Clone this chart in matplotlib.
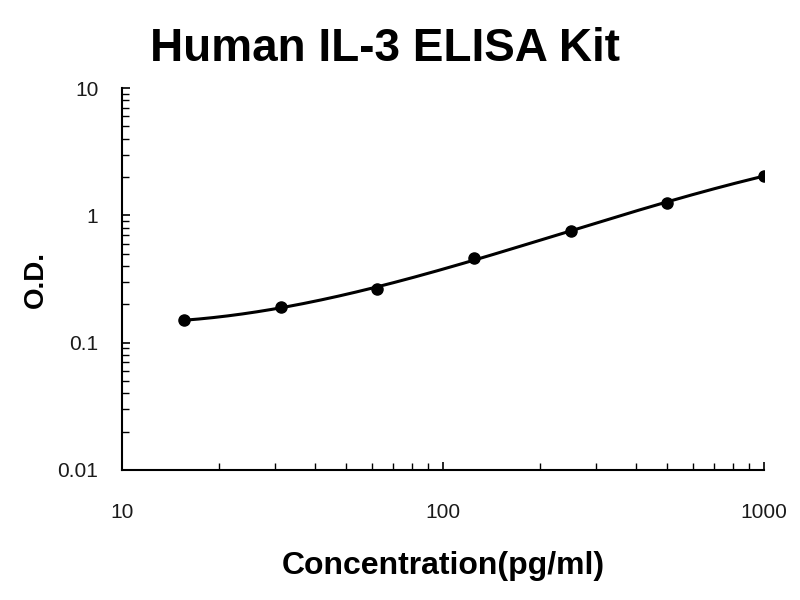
import numpy as np
import matplotlib
matplotlib.use("Agg")
import matplotlib.pyplot as plt
from matplotlib.ticker import LogLocator, FixedLocator, NullFormatter, FixedFormatter

concentration = [15.6, 31.25, 62.5, 125, 250, 500, 1000]
od = [0.15, 0.19, 0.265, 0.46, 0.76, 1.25, 2.05]
x_ticks = [10, 100, 1000]
x_tick_labels = ["10", "100", "1000"]
y_ticks = [0.01, 0.1, 1, 10]
y_tick_labels = ["0.01", "0.1", "1", "10"]

plt.rcParams['font.family'] = ['Liberation Sans', 'DejaVu Sans']

fig = plt.figure(figsize=(8, 6), dpi=100)
ax = fig.add_axes([0.1525, 0.2167, 0.8025, 0.6366])

# smooth fitted curve (cubic in log-log space)
lx = np.log10(concentration)
ly = np.log10(od)
coef = np.polyfit(lx, ly, 3)
xs = np.linspace(lx.min(), lx.max(), 200)
ax.plot(10**xs, 10**np.polyval(coef, xs), color='black', lw=2.2, zorder=2)
ax.plot(concentration, od, 'o', color='black', markersize=8, zorder=3)

ax.set_xscale('log')
ax.set_yscale('log')
ax.set_xlim(10, 1000)
ax.set_ylim(0.01, 10)

ax.spines['top'].set_visible(False)
ax.spines['right'].set_visible(False)
ax.spines['left'].set_linewidth(1.5)
ax.spines['bottom'].set_linewidth(1.5)

ax.xaxis.set_major_locator(FixedLocator(x_ticks))
ax.xaxis.set_major_formatter(FixedFormatter(x_tick_labels))
ax.yaxis.set_major_locator(FixedLocator(y_ticks))
ax.yaxis.set_major_formatter(FixedFormatter(y_tick_labels))
ax.xaxis.set_minor_locator(LogLocator(base=10, subs=np.arange(2, 10)))
ax.yaxis.set_minor_locator(LogLocator(base=10, subs=np.arange(2, 10)))
ax.xaxis.set_minor_formatter(NullFormatter())
ax.yaxis.set_minor_formatter(NullFormatter())

ax.tick_params(axis='both', which='both', direction='in', color='black')
ax.tick_params(axis='both', which='major', length=6, width=1.2)
ax.tick_params(axis='both', which='minor', length=5, width=1.0)
ax.tick_params(axis='y', which='major', pad=17, labelsize=15, labelcolor='#1a1a1a')
ax.tick_params(axis='x', which='major', pad=24, labelsize=15, labelcolor='#1a1a1a')

ax.set_xlabel('Concentration(pg/ml)', fontsize=23, fontweight='bold', labelpad=21)
ax.set_ylabel('O.D.', fontsize=20, fontweight='bold', labelpad=6)
fig.text(385/800, 1 - 49/600, 'Human IL-3 ELISA Kit', fontsize=33,
         fontweight='bold', ha='center', va='center')

fig.savefig('out.png', dpi=100)
